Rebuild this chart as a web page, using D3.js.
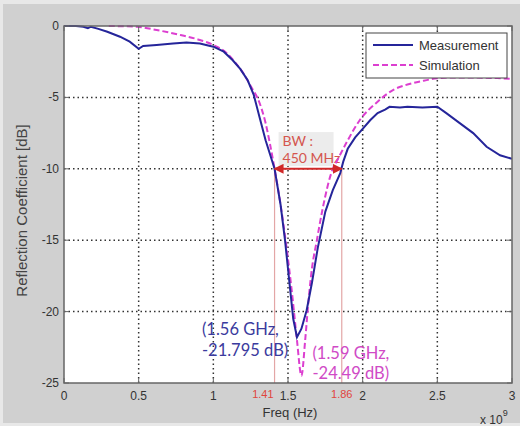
<!DOCTYPE html>
<html><head><meta charset="utf-8">
<script src="https://cdn.jsdelivr.net/npm/d3@7"></script>
<style>body{margin:0;background:#e6e6e6}svg{display:block}</style>
</head><body>
<svg id="chart" width="520" height="426"></svg>
<script>
// ---- data (frequency in GHz, reflection in dB) ----
const measFreq = [0,0.08,0.13,0.16,0.18,0.23,0.29,0.375,0.44,0.5,0.53,0.62,0.73,0.82,0.91,1.0,1.07,1.13,1.18,1.23,1.27,1.31,1.35,1.41,1.45,1.48,1.51,1.535,1.56,1.59,1.625,1.66,1.70,1.75,1.80,1.85,1.87,1.90,1.95,2.0,2.05,2.1,2.15,2.18,2.25,2.3,2.4,2.5,2.56,2.65,2.74,2.83,2.92,3.0];
const measDb   = [0,0,-0.05,-0.16,-0.05,-0.2,-0.4,-0.75,-1.1,-1.6,-1.4,-1.33,-1.22,-1.15,-1.22,-1.45,-1.8,-2.4,-3.0,-3.8,-4.8,-6.4,-8.0,-10.0,-12.5,-15,-18,-20.5,-21.795,-21.2,-19.9,-18.0,-15.5,-13.0,-11.5,-10.3,-9.5,-8.6,-7.8,-7.2,-6.6,-6.1,-5.85,-5.66,-5.7,-5.65,-5.7,-5.65,-6.1,-6.8,-7.5,-8.46,-9.05,-9.3];
const simFreq  = [0.3,0.4,0.49,0.62,0.78,0.91,1.0,1.09,1.15,1.2,1.25,1.31,1.35,1.38,1.41,1.45,1.49,1.53,1.56,1.59,1.615,1.635,1.66,1.69,1.73,1.80,1.83,1.9,1.98,2.1,2.2,2.3,2.4,2.5,2.6,2.7,2.8,2.9,3.0];
const simDb    = [0,-0.02,-0.05,-0.28,-0.63,-0.98,-1.33,-1.9,-2.6,-3.3,-4.2,-5.4,-6.8,-8.3,-10,-12.5,-15.5,-19,-22,-24.49,-22,-19.5,-17,-15.2,-12.9,-10,-9.4,-8.0,-6.6,-5.3,-4.5,-4.1,-3.85,-3.66,-3.6,-3.6,-3.62,-3.65,-3.7];
const xTicks = [0,0.5,1,1.5,2,2.5,3];
const xTickLabels = ["0","0.5","1","1.5","2","2.5","3"];
const yTicks = [0,-5,-10,-15,-20,-25];
const yTickLabels = ["0","-5","-10","-15","-20","-25"];
const seriesNames = ["Measurement","Simulation"];
const bwEdges = [1.41,1.86];
const bwEdgeLabels = ["1.41","1.86"];
const bwLevel = -10;
const bwText = ["BW :","450 MHz"];
const measPeak = {f:1.56, db:-21.795, lines:["(1.56 GHz,","-21.795 dB)"]};
const simPeak  = {f:1.59, db:-24.49,  lines:["(1.59 GHz,","-24.49 dB)"]};

// ---- layout ----
const svg = d3.select("#chart");
const W = 520, H = 426;
const L = 64, R = 512, T = 26, B = 383;
const x = d3.scaleLinear().domain([0,3]).range([L,R]);
const y = d3.scaleLinear().domain([-25,0]).range([B,T]);
const blue = "#25259a", mag = "#dc3fd0";

svg.append("rect").attr("x",0).attr("y",0).attr("width",W).attr("height",H).attr("fill","#e8e8e8");
svg.append("rect").attr("x",3).attr("y",4).attr("width",W-3).attr("height",H-7).attr("fill","#d0d0d0");
svg.append("rect").attr("x",L).attr("y",T).attr("width",R-L).attr("height",B-T).attr("fill","#fff");

svg.append("defs").append("clipPath").attr("id","clip")
  .append("rect").attr("x",L).attr("y",T-2).attr("width",R-L).attr("height",B-T+2);

// grid
const grid = svg.append("g").attr("stroke","#333").attr("stroke-width",1.5).attr("stroke-dasharray","1.5,3");
grid.selectAll(".gx").data(xTicks.slice(1,-1)).join("line")
  .attr("x1",d=>x(d)).attr("x2",d=>x(d)).attr("y1",T).attr("y2",B);
grid.selectAll(".gy").data(yTicks.slice(1,-1)).join("line")
  .attr("y1",d=>y(d)).attr("y2",d=>y(d)).attr("x1",L).attr("x2",R);

// BW vertical guides
svg.append("g").selectAll("line").data(bwEdges).join("line")
  .attr("x1",d=>x(d)).attr("x2",d=>x(d)).attr("y1",y(bwLevel)).attr("y2",B)
  .attr("stroke","#e3a6a6").attr("stroke-width",1.2);

// BW label box
svg.append("rect").attr("x",x(bwEdges[0])+4).attr("y",y(-7.5)-1).attr("width",55).attr("height",34).attr("fill","#ececec");
svg.append("g").selectAll("text").data(bwText).join("text")
  .attr("x",x(bwEdges[0])+8).attr("y",(d,i)=>y(-7.5)+13+i*17)
  .attr("font-family","Lato, 'Open Sans', sans-serif").attr("font-size",14).attr("fill","#d4564e").text(d=>d);

// curves
const plot = svg.append("g").attr("clip-path","url(#clip)");
plot.append("path").datum(simFreq.map((f,i)=>[f,simDb[i]]))
  .attr("d",d3.line().x(d=>x(d[0])).y(d=>y(d[1])).curve(d3.curveMonotoneX))
  .attr("fill","none").attr("stroke",mag).attr("stroke-width",2).attr("stroke-dasharray","6,3");
plot.append("path").datum(measFreq.map((f,i)=>[f,measDb[i]]))
  .attr("d",d3.line().x(d=>x(d[0])).y(d=>y(d[1]))).attr("fill","none").attr("stroke",blue).attr("stroke-width",2);

// BW arrow
const defs = svg.select("defs");
defs.append("marker").attr("id","ah").attr("viewBox","0 0 10 10").attr("refX",9).attr("refY",5)
  .attr("markerWidth",5).attr("markerHeight",5).attr("orient","auto-start-reverse")
  .append("path").attr("d","M0,0L10,5L0,10z").attr("fill","#d02828");
svg.append("line").attr("x1",x(bwEdges[0])).attr("x2",x(bwEdges[1])).attr("y1",y(bwLevel)).attr("y2",y(bwLevel))
  .attr("stroke","#d02828").attr("stroke-width",2).attr("marker-start","url(#ah)").attr("marker-end","url(#ah)");

// axes frame
const axCol = "#666";
svg.append("rect").attr("x",L).attr("y",T).attr("width",R-L).attr("height",B-T).attr("fill","none").attr("stroke",axCol).attr("stroke-width",1.5);
const tk = svg.append("g").attr("stroke",axCol).attr("stroke-width",1);
xTicks.forEach(t=>{
  tk.append("line").attr("x1",x(t)).attr("x2",x(t)).attr("y1",B).attr("y2",B-5);
  tk.append("line").attr("x1",x(t)).attr("x2",x(t)).attr("y1",T).attr("y2",T+5);
});
yTicks.forEach(t=>{
  tk.append("line").attr("y1",y(t)).attr("y2",y(t)).attr("x1",L).attr("x2",L+5);
  tk.append("line").attr("y1",y(t)).attr("y2",y(t)).attr("x1",R).attr("x2",R-5);
});

// tick labels
const tf = "Arial, 'Liberation Sans', sans-serif";
svg.append("g").selectAll("text").data(xTicks).join("text")
  .attr("x",d=>x(d)).attr("y",B+17).attr("text-anchor","middle")
  .attr("font-family",tf).attr("font-size",12).attr("fill","#333").text((d,i)=>xTickLabels[i]);
svg.append("g").selectAll("text").data(yTicks).join("text")
  .attr("x",L-5).attr("y",d=>y(d)+4).attr("text-anchor","end")
  .attr("font-family",tf).attr("font-size",12).attr("fill","#333").text((d,i)=>yTickLabels[i]);
svg.append("g").selectAll("text").data(bwEdges).join("text")
  .attr("x",(d,i)=>i===0?x(d)-1:x(d)).attr("y",B+15).attr("text-anchor",(d,i)=>i===0?"end":"middle")
  .attr("font-family",tf).attr("font-size",11).attr("fill","#e0453d").text((d,i)=>bwEdgeLabels[i]);

// axis titles
svg.append("text").attr("x",(L+R)/2+2).attr("y",417).attr("text-anchor","middle")
  .attr("font-family",tf).attr("font-size",13).attr("fill","#333").text("Freq (Hz)");
svg.append("text").attr("transform",`translate(27,${(T+B)/2+6}) rotate(-90)`).attr("text-anchor","middle")
  .attr("font-family",tf).attr("font-size",15).attr("fill","#444").text("Reflection Coefficient [dB]");
const ex = svg.append("text").attr("x",480).attr("y",424).attr("font-family",tf).attr("font-size",12).attr("fill","#333");
ex.append("tspan").text("x 10");
ex.append("tspan").attr("dy",-8).attr("font-size",9).text("9");

// peak annotations
const af = "Lato, 'Open Sans', sans-serif";
svg.append("g").selectAll("text").data(measPeak.lines).join("text")
  .attr("x",x(measPeak.f)-95).attr("y",(d,i)=>y(measPeak.db)-2+i*21)
  .attr("font-family",af).attr("font-size",16.5).attr("fill","#3b3b9e").text(d=>d);
svg.append("g").selectAll("text").data(simPeak.lines).join("text")
  .attr("x",x(simPeak.f)+11).attr("y",(d,i)=>y(simPeak.db)-17+i*20)
  .attr("font-family",af).attr("font-size",16.5).attr("fill","#d04ac6").text(d=>d);

// legend
const lg = svg.append("g");
lg.append("rect").attr("x",366).attr("y",33).attr("width",141).attr("height",45).attr("fill","#fff").attr("stroke","#444").attr("stroke-width",1);
const lcol = [blue,mag], ldash = [null,"6,3"];
seriesNames.forEach((n,i)=>{
  const yy = 45+i*20;
  lg.append("line").attr("x1",373).attr("x2",413).attr("y1",yy).attr("y2",yy)
    .attr("stroke",lcol[i]).attr("stroke-width",2).attr("stroke-dasharray",ldash[i]);
  lg.append("text").attr("x",419).attr("y",yy+4.5).attr("font-family",tf).attr("font-size",13).attr("fill","#333").text(n);
});
</script>
</body></html>
